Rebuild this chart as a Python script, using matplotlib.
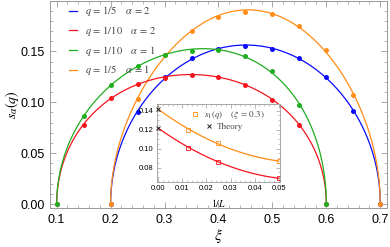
import numpy as np
import matplotlib
matplotlib.use('Agg')
import matplotlib.pyplot as plt
from matplotlib.lines import Line2D
from matplotlib.ticker import MultipleLocator

plt.rcParams['mathtext.fontset'] = 'stix'
plt.rcParams['font.family'] = ['Liberation Sans', 'DejaVu Sans']

# ---------------- data ----------------
xi_q5 = [0.20, 0.25, 0.30, 0.35, 0.40, 0.45, 0.50, 0.55, 0.60, 0.65, 0.70]
xi_q10 = [0.10, 0.15, 0.20, 0.25, 0.30, 0.35, 0.40, 0.45, 0.50, 0.55, 0.60]

s_q5_a2 = [0.0, 0.0905, 0.1248, 0.1430, 0.1525, 0.1550, 0.1521, 0.1430, 0.1248, 0.0917, 0.0]
s_q10_a2 = [0.0, 0.0781, 0.1041, 0.1183, 0.1242, 0.1268, 0.1249, 0.1171, 0.1027, 0.0778, 0.0]
s_q10_a1 = [0.0, 0.0862, 0.1173, 0.1352, 0.1468, 0.1505, 0.1510, 0.1450, 0.1308, 0.0972, 0.0]
s_q5_a1 = [0.0, 0.1031, 0.1468, 0.1705, 0.1840, 0.1886, 0.1863, 0.1750, 0.1512, 0.1071, 0.0]

labels = [r'$q\,=\,1/5\quad\;\alpha\,=\,2$', r'$q\,=\,1/10\quad\;\alpha\,=\,2$',
          r'$q\,=\,1/10\quad\;\alpha\,=\,1$', r'$q\,=\,1/5\quad\;\alpha\,=\,1$']
colors = ['#0a0aff', '#f5141e', '#1fae1f', '#ff8c14']

inv_L = [0.0125, 0.025, 0.05]
inset_q5 = [0.1194, 0.1060, 0.0868]
inset_q10 = [0.1011, 0.0863, 0.0688]
theory_q5 = 0.1421
theory_q10 = 0.1218


def smooth(x, y):
    x = np.asarray(x); y = np.asarray(y)
    a, b = x[0], x[-1]
    w = (x - a) * (b - x)
    ratio = y[1:-1] ** 2 / w[1:-1]
    p = np.polyfit(x[1:-1], ratio, 2)
    t = np.linspace(0, np.pi, 500)
    xf = a + (b - a) * (1 - np.cos(t)) / 2
    yf = np.sqrt(np.clip(np.polyval(p, xf) * (xf - a) * (b - xf), 0, None))
    return xf, yf


fig = plt.figure(figsize=(3.9, 2.47), dpi=100)
ax = fig.add_axes([50 / 390, 1 - 208 / 247, 337 / 390, 207 / 247])

series = [(xi_q5, s_q5_a2, 0), (xi_q10, s_q10_a2, 1), (xi_q10, s_q10_a1, 2), (xi_q5, s_q5_a1, 3)]
zorders = {0: 2, 3: 3, 1: 4, 2: 5}
for x, y, i in series:
    xf, yf = smooth(x, y)
    ax.plot(xf, yf, color=colors[i], lw=0.9, zorder=zorders[i], label=labels[i])
    ax.plot(x, y, 'o', color=colors[i], ms=3.6, mec='none', zorder=zorders[i] + 0.5)

ax.set_xlim(0.0876, 0.7125)
ax.set_ylim(-0.0039, 0.1995)
ax.xaxis.set_major_locator(MultipleLocator(0.1))
ax.xaxis.set_minor_locator(MultipleLocator(0.02))
ax.yaxis.set_major_locator(MultipleLocator(0.05))
ax.yaxis.set_minor_locator(MultipleLocator(0.01))
ax.xaxis.set_major_formatter(plt.FuncFormatter(lambda v, p: f'{v:.1f}'))
ax.yaxis.set_major_formatter(plt.FuncFormatter(lambda v, p: f'{v:.2f}'))
ax.tick_params(which='both', direction='in', top=True, right=True, color='#999999',
               labelsize=9, labelcolor='black')
ax.tick_params(which='major', length=4, width=0.6)
ax.tick_params(which='minor', length=2, width=0.5)
ax.tick_params(axis='x', pad=4)
for sp in ax.spines.values():
    sp.set_color('#999999')
    sp.set_linewidth(0.7)
ax.set_xlabel(r'$\xi$', fontsize=11, labelpad=1)
ax.set_ylabel(r'$s_\alpha(q)$', fontsize=10, labelpad=0)

handles = [Line2D([], [], color=c, lw=0.9) for c in colors]
leg = ax.legend(handles, labels, loc='upper left', bbox_to_anchor=(0.035, 1.02), frameon=False,
                fontsize=7.5, handlelength=0.8, handletextpad=0.7, labelspacing=0.55,
                borderaxespad=0.3)
for t in leg.get_texts():
    t.set_color('#444444')

# ---------------- inset ----------------
axi = fig.add_axes([156.5 / 390, 1 - 182.3 / 247, 123.5 / 390, 78.6 / 247])
axi.set_facecolor('white')
axi.set_zorder(10)
for vals, th, c in [(inset_q5, theory_q5, colors[3]), (inset_q10, theory_q10, colors[1])]:
    xx = np.array([0.0] + inv_L)
    yy = np.array([th] + vals)
    p = np.polyfit(xx, yy, 2)
    xf = np.linspace(0, 0.05, 200)
    axi.plot(xf, np.polyval(p, xf), color=c, lw=0.9)
    axi.plot(inv_L, vals, 's', mfc='none', mec=c, ms=3.4, mew=0.6)
    axi.plot([0.0], [th], 'x', color='#222222', ms=3.2, mew=0.7, clip_on=False, zorder=5)
axi.set_xlim(-0.0007, 0.0505)
axi.set_ylim(0.0646, 0.1474)
axi.xaxis.set_major_locator(MultipleLocator(0.01))
axi.xaxis.set_minor_locator(MultipleLocator(0.002))
axi.yaxis.set_major_locator(MultipleLocator(0.02))
axi.yaxis.set_minor_locator(MultipleLocator(0.005))
axi.xaxis.set_major_formatter(plt.FuncFormatter(lambda v, p: f'{v:.2f}'))
axi.yaxis.set_major_formatter(plt.FuncFormatter(lambda v, p: f'{v:.2f}'))
axi.tick_params(which='both', direction='in', top=True, right=True, color='#999999',
                labelsize=5.5, labelcolor='black', pad=2)
axi.tick_params(which='major', length=3, width=0.5)
axi.tick_params(which='minor', length=1.5, width=0.4)
for sp in axi.spines.values():
    sp.set_color('#999999')
    sp.set_linewidth(0.6)
axi.set_xlabel(r'$1/L$', fontsize=7)
axi.xaxis.set_label_coords(0.5, -0.19)

l1 = axi.legend([Line2D([], [], ls='none', marker='s', mfc='none', mec=colors[3], ms=3.4, mew=0.6)],
                [r'$s_1(q)\quad\;\,(\xi\,=\,0.3)$'], loc='upper left', bbox_to_anchor=(0.235, 1.0),
                frameon=False, fontsize=6.5, handlelength=0.8, handletextpad=0.6, borderaxespad=0.2)
for t in l1.get_texts():
    t.set_color('#444444')
axi.add_artist(l1)
l2 = axi.legend([Line2D([], [], ls='none', marker='x', color='#222222', ms=3.2, mew=0.7)],
                ['Theory'], loc='upper left', bbox_to_anchor=(0.36, 0.83),
                frameon=False, prop={'family': 'Liberation Serif', 'size': 6.5},
                handlelength=0.6, handletextpad=0.5, borderaxespad=0.2)
for t in l2.get_texts():
    t.set_color('#444444')

fig.savefig('out.png', dpi=100)
